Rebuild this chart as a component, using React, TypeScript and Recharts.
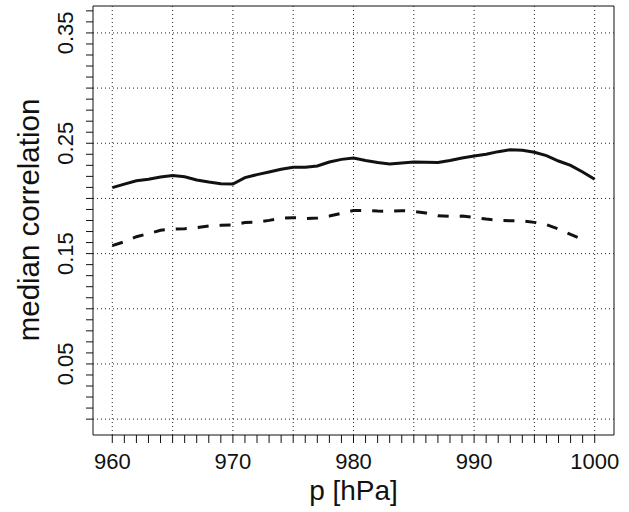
import React from "react";
import {
  LineChart,
  Line,
  XAxis,
  YAxis,
  ReferenceLine,
  ReferenceArea,
} from "recharts";

const pressure = [
  960, 961, 962, 963, 964, 965, 966, 967, 968, 969, 970, 971, 972, 973, 974,
  975, 976, 977, 978, 979, 980, 981, 982, 983, 984, 985, 986, 987, 988, 989,
  990, 991, 992, 993, 994, 995, 996, 997, 998, 999, 1000,
];

const solidCorr = [
  0.2098, 0.213, 0.216, 0.2173, 0.2194, 0.2207, 0.2197, 0.2167, 0.2149, 0.2134,
  0.2131, 0.2189, 0.2216, 0.224, 0.2264, 0.2282, 0.2282, 0.2294, 0.233, 0.2354,
  0.2366, 0.2343, 0.2325, 0.2312, 0.2321, 0.233, 0.2327, 0.2325, 0.2343,
  0.2366, 0.2384, 0.24, 0.2424, 0.2442, 0.2436, 0.2418, 0.2388, 0.2339, 0.23,
  0.224, 0.2173,
];

const dashedCorr = [
  0.1572, 0.1608, 0.1653, 0.1681, 0.1711, 0.1723, 0.1726, 0.1735, 0.175,
  0.1756, 0.1759, 0.1781, 0.1786, 0.1801, 0.182, 0.1826, 0.1817, 0.1822,
  0.184, 0.1865, 0.189, 0.1892, 0.1886, 0.1883, 0.1889, 0.1883, 0.1868,
  0.1844, 0.1838, 0.184, 0.1829, 0.1813, 0.1801, 0.1798, 0.1798, 0.1783,
  0.1762, 0.1723, 0.1674, 0.1629, null,
];

const xLabels = [960, 970, 980, 990, 1000];
const yLabels = [0.05, 0.15, 0.25, 0.35];
const xGrid = [960, 965, 970, 975, 980, 985, 990, 995, 1000];
const yGrid = [0, 0.05, 0.1, 0.15, 0.2, 0.25, 0.3, 0.35];

// minor ticks: every 1 hPa and every 0.01
const xTicks = pressure;
const yTicks = Array.from({ length: 38 }, (_, i) => i / 100);

const X_DOMAIN = [958.4, 1001.6];
const Y_DOMAIN = [-0.0144, 0.3744];

const FONT = "'Liberation Sans', Arial, Helvetica, sans-serif";

const data = pressure.map((p, i) => ({
  p,
  solid: solidCorr[i],
  dashed: dashedCorr[i],
}));

function XTick(props: any) {
  const v = props.payload.value;
  if (!xLabels.includes(v)) return null;
  return (
    <text
      x={props.x}
      y={469}
      textAnchor="middle"
      fontSize={22}
      fontFamily={FONT}
      fill="#111"
    >
      {v}
    </text>
  );
}

function YTick(props: any) {
  const v = props.payload.value;
  if (!yLabels.some((l) => Math.abs(l - v) < 1e-6)) return null;
  const x = 73;
  return (
    <text
      x={x}
      y={props.y}
      transform={`rotate(-90, ${x}, ${props.y})`}
      textAnchor="middle"
      fontSize={22}
      fontFamily={FONT}
      fill="#111"
    >
      {v.toFixed(2)}
    </text>
  );
}

export default function App() {
  return (
    <div style={{ position: "absolute", left: 0, top: 0, background: "#fff" }}>
      <LineChart
        width={629}
        height={512}
        data={data}
        margin={{ top: 6, right: 15, bottom: 0, left: 0 }}
      >
        <XAxis
          dataKey="p"
          type="number"
          domain={X_DOMAIN}
          ticks={xTicks}
          interval={0}
          allowDataOverflow
          axisLine={false}
          tickLine={{ stroke: "#111", strokeWidth: 1 }}
          tickSize={8}
          height={77}
          tick={<XTick />}
          label={{
            value: "p [hPa]",
            position: "insideBottom",
            offset: 12,
            fontSize: 28,
            fontFamily: FONT,
            fill: "#111",
          }}
        />
        <YAxis
          type="number"
          domain={Y_DOMAIN}
          ticks={yTicks}
          interval={0}
          allowDataOverflow
          axisLine={false}
          tickLine={{ stroke: "#111", strokeWidth: 1 }}
          tickSize={7}
          width={93}
          tick={<YTick />}
          label={{
            content: () => (
              <text
                x={39}
                y={220}
                transform="rotate(-90, 39, 220)"
                textAnchor="middle"
                fontSize={29.5}
                fontFamily={FONT}
                fill="#111"
              >
                median correlation
              </text>
            ),
          }}
        />
        {xGrid.map((g) => (
          <ReferenceLine
            key={"vx" + g}
            x={g}
            stroke="#222"
            strokeWidth={1}
            strokeDasharray="1 3"
          />
        ))}
        {yGrid.map((g) => (
          <ReferenceLine
            key={"hy" + g}
            y={g}
            stroke="#222"
            strokeWidth={1}
            strokeDasharray="1 3"
          />
        ))}
        <ReferenceArea
          x1={X_DOMAIN[0]}
          x2={X_DOMAIN[1]}
          y1={Y_DOMAIN[0]}
          y2={Y_DOMAIN[1]}
          fill="none"
          fillOpacity={0}
          stroke="#111"
          strokeWidth={1}
        />
        <Line
          type="linear"
          dataKey="solid"
          stroke="#111"
          strokeWidth={3}
          dot={false}
          activeDot={false}
          isAnimationActive={false}
        />
        <Line
          type="linear"
          dataKey="dashed"
          stroke="#111"
          strokeWidth={3}
          strokeDasharray="11 11"
          dot={false}
          activeDot={false}
          connectNulls={false}
          isAnimationActive={false}
        />
      </LineChart>
    </div>
  );
}
